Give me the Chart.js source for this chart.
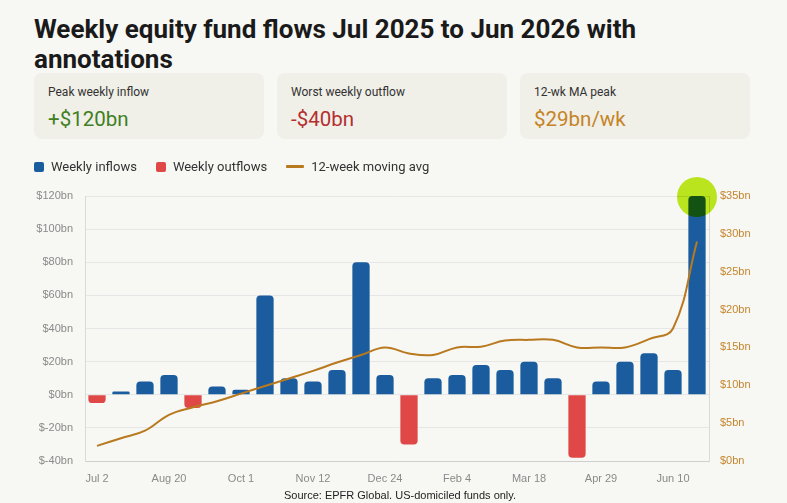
<!DOCTYPE html>
<html>
<head>
<meta charset="utf-8">
<script src="https://cdn.jsdelivr.net/npm/chart.js@4/dist/chart.umd.min.js"></script>
<style>
  body { margin: 0; background: #f7f7f4; width: 787px; height: 503px; overflow: hidden; position: relative; font-family: Roboto, "Noto Sans", sans-serif; color: #1a1a1a; }
  h1 { position: absolute; left: 34px; top: 14px; width: 680px; margin: 0; font-size: 26px; line-height: 30px; font-weight: 700; letter-spacing: 0; }
  .card { position: absolute; top: 73px; width: 230px; height: 66px; background: #f0efe8; border-radius: 8px; box-sizing: border-box; padding: 11px 14px; }
  .card .lbl { font-size: 12px; color: #333; line-height: 16px; }
  .card .val { font-size: 20.5px; line-height: 26px; margin-top: 6px; }
  .legend { position: absolute; left: 34px; top: 159px; display: flex; align-items: center; font-size: 13px; color: #333; z-index: 2; }
  .legend .item { display: flex; align-items: center; margin-right: 19px; }
  .legend .sw { width: 10px; height: 10px; border-radius: 2px; margin-right: 7px; }
  .legend .ln { width: 18px; height: 3px; border-radius: 1px; margin-right: 7px; }
  #wrap { position: absolute; left: 0; top: 172px; width: 787px; height: 318px; }
  .source { position: absolute; left: 0; width: 800px; top: 489px; text-align: center; font: 11px Arial, "Liberation Sans", sans-serif; color: #222; }
</style>
</head>
<body>
<h1>Weekly equity fund flows Jul 2025 to Jun 2026 with annotations</h1>
<div class="card" style="left:34px"><div class="lbl">Peak weekly inflow</div><div class="val" style="color:#3f7f1f">+$120bn</div></div>
<div class="card" style="left:277px"><div class="lbl">Worst weekly outflow</div><div class="val" style="color:#b3302f">-$40bn</div></div>
<div class="card" style="left:520px"><div class="lbl">12-wk MA peak</div><div class="val" style="color:#c58425">$29bn/wk</div></div>
<div class="legend">
  <div class="item"><span class="sw" style="background:#1b5c9e"></span>Weekly inflows</div>
  <div class="item"><span class="sw" style="background:#e04848"></span>Weekly outflows</div>
  <div class="item"><span class="ln" style="background:#b8791f"></span>12-week moving avg</div>
</div>
<div id="wrap"><canvas id="flowChart"></canvas></div>
<div class="source">Source: EPFR Global. US-domiciled funds only.</div>
<script>
const weeks = ['Jul 2', 'Jul 23', 'Aug 6', 'Aug 20', 'Sep 3', 'Sep 17', 'Oct 1', 'Oct 15', 'Oct 29',
    'Nov 12', 'Nov 26', 'Dec 10', 'Dec 24', 'Jan 7', 'Jan 21', 'Feb 4', 'Feb 18', 'Mar 4',
    'Mar 18', 'Apr 1', 'Apr 15', 'Apr 29', 'May 13', 'May 27', 'Jun 10', 'Jun 24'];
const inflows = [null, 2, 8, 12, null, 5, 3, 60, 10, 8, 15, 80, 12,
    null, 10, 12, 18, 15, 20, 10, null, 8, 20, 25, 15, 120];
const outflows = [-5, null, null, null, -8, null, null, null, null, null, null, null, null,
    -30, null, null, null, null, null, null, -38, null, null, null, null, null];
const movingAvg = [2.0, 3.0, 4.0, 6.1, 7.1, 7.9, 8.9, 9.9, 10.9, 11.9, 13.0, 14.0, 15.0,
    14.2, 14.0, 15.0, 15.1, 15.9, 16.0, 16.0, 15.0, 15.0, 15.0, 16.1, 17.5, 29.0];
const leftTicks = { min: -40, max: 120, step: 20 };
const rightTicks = { min: 0, max: 35, step: 5 };

const peakIndex = inflows.indexOf(Math.max(...inflows.filter(v => v !== null)));

// lime marker on the biggest inflow week
const peakMarker = {
    id: 'peakMarker',
    afterDatasetsDraw(chart) {
        const bar = chart.getDatasetMeta(0).data[peakIndex];
        if (!bar) return;
        const ctx = chart.ctx;
        ctx.save();
        ctx.globalCompositeOperation = 'multiply';
        ctx.fillStyle = 'rgb(186, 228, 30)';
        ctx.beginPath();
        ctx.arc(bar.x, bar.y + 1, 20, 0, Math.PI * 2);
        ctx.fill();
        ctx.restore();
    }
};

Chart.defaults.font.family = 'Arial, "Liberation Sans", sans-serif';
Chart.defaults.font.size = 11;

new Chart(document.getElementById('flowChart'), {
    type: 'bar',
    data: {
        labels: weeks,
        datasets: [
            {
                label: 'Weekly inflows',
                data: inflows,
                backgroundColor: '#1b5c9e',
                borderRadius: 4,
                grouped: false,
                order: 1
            },
            {
                label: 'Weekly outflows',
                data: outflows,
                backgroundColor: '#e04848',
                borderRadius: 4,
                grouped: false,
                order: 1
            },
            {
                type: 'line',
                label: '12-week moving avg',
                data: movingAvg,
                yAxisID: 'y1',
                borderColor: '#b8791f',
                borderWidth: 2,
                tension: 0.4,
                pointRadius: 0,
                order: 0
            }
        ]
    },
    options: {
        responsive: true,
        maintainAspectRatio: false,
        animation: false,
        layout: { padding: { top: 24 } },
        plugins: {
            legend: { display: false },
            tooltip: { enabled: false }
        },
        scales: {
            x: {
                grid: { display: false },
                border: { color: '#cfcfcf' },
                ticks: {
                    color: '#8a8a8a',
                    autoSkip: false,
                    maxRotation: 0,
                    padding: 3,
                    callback: (v, i) => (i % 3 === 0 ? weeks[i] : '')
                },
                afterFit: s => { s.height = 29; }
            },
            y: {
                position: 'left',
                min: leftTicks.min,
                max: leftTicks.max,
                grid: { color: '#e6e6e6', drawTicks: false },
                border: { color: '#dadada' },
                ticks: {
                    stepSize: leftTicks.step,
                    color: '#8a8a8a',
                    padding: 12,
                    callback: v => '$' + v + 'bn'
                },
                afterFit: s => { s.width = 85; }
            },
            y1: {
                position: 'right',
                min: rightTicks.min,
                max: rightTicks.max,
                grid: { display: false, drawTicks: false },
                border: { color: '#dadada' },
                ticks: {
                    stepSize: rightTicks.step,
                    color: '#c4862c',
                    padding: 11,
                    callback: v => '$' + v + 'bn'
                },
                afterFit: s => { s.width = 78; }
            }
        }
    },
    plugins: [peakMarker]
});
</script>
</body>
</html>
